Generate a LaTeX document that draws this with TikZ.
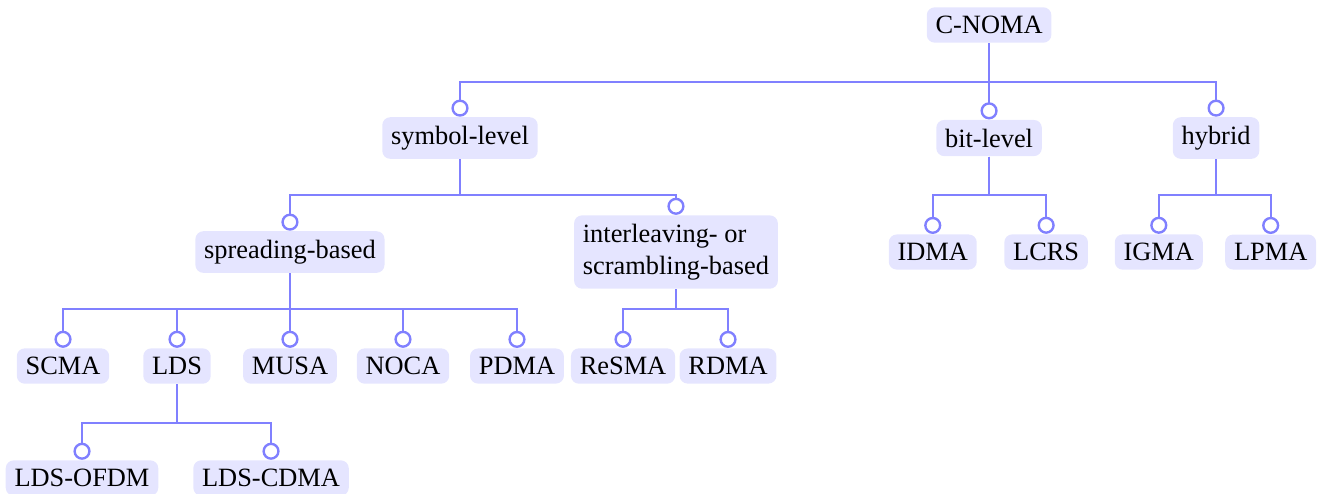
\documentclass[tikz,border=0pt]{standalone}
\usepackage{fontspec}
\setmainfont{Liberation Serif}
\usetikzlibrary{arrows.meta}

\tikzset{
  cat/.style={fill=blue!10, rounded corners=3pt, align=left},
  link/.style={draw=blue!50, line width=0.9pt, -{Circle[open,length=6.5pt,width=6.5pt]}},
}

\begin{document}
\begin{tikzpicture}
    \useasboundingbox (0,0) rectangle (17.55,-6.578);

    % Root and first level
    \node[cat] (cnoma) at (13.17,-0.333) {C-NOMA};
    \node[cat] (symbol) at (6.125,-1.838) {symbol-level};
    \node[cat] (bit) at (13.17,-1.838) {bit-level};
    \node[cat] (hybrid) at (16.193,-1.838) {hybrid};

    % Second level
    \node[cat] (spread) at (3.861,-3.356) {spreading-based};
    \node[cat] (inter) at (9.001,-3.356) {interleaving- or\\scrambling-based};
    \node[cat] (idma) at (12.42,-3.356) {IDMA};
    \node[cat] (lcrs) at (13.93,-3.356) {LCRS};
    \node[cat] (igma) at (15.43,-3.356) {IGMA};
    \node[cat] (lpma) at (16.92,-3.356) {LPMA};

    % Third level
    \node[cat] (scma) at (0.839,-4.874) {SCMA};
    \node[cat] (lds) at (2.357,-4.874) {LDS};
    \node[cat] (musa) at (3.861,-4.874) {MUSA};
    \node[cat] (noca) at (5.366,-4.874) {NOCA};
    \node[cat] (pdma) at (6.884,-4.874) {PDMA};
    \node[cat] (resma) at (8.296,-4.874) {ReSMA};
    \node[cat] (rdma) at (9.694,-4.874) {RDMA};

    % Fourth level
    \node[cat] (ldsofdm) at (1.092,-6.365) {LDS-OFDM};
    \node[cat] (ldscdma) at (3.609,-6.365) {LDS-CDMA};

    % Tree links
    \foreach \p/\c in {cnoma/symbol, cnoma/bit, cnoma/hybrid,
                       symbol/spread, symbol/inter,
                       bit/idma, bit/lcrs, hybrid/igma, hybrid/lpma,
                       spread/scma, spread/lds, spread/musa, spread/noca, spread/pdma,
                       inter/resma, inter/rdma,
                       lds/ldsofdm, lds/ldscdma}
      \draw[link] (\p) -- ++(0,-0.76) -| (\c);
\end{tikzpicture}
\end{document}
